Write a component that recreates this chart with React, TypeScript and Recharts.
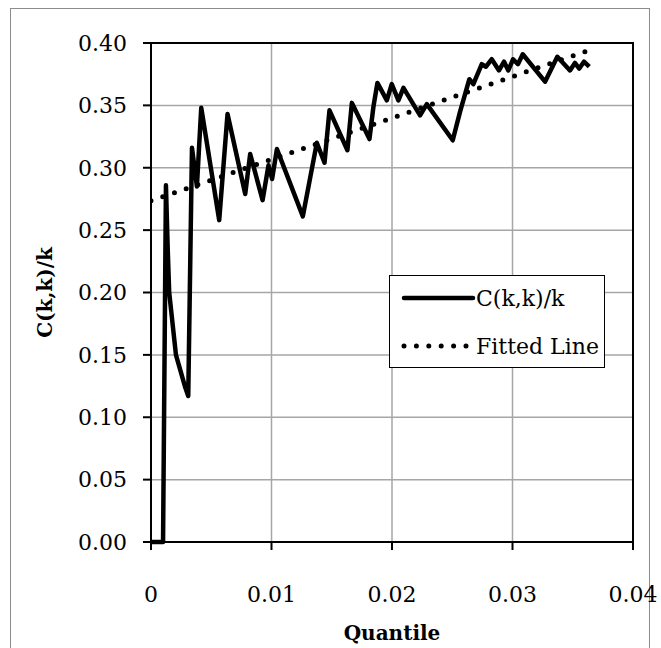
import { LineChart, XAxis, YAxis, CartesianGrid, Line, ReferenceArea } from "recharts";

const quantiles = [
  0, 0.001, 0.00124, 0.00139, 0.00151, 0.00207, 0.00284, 0.00309, 0.0034, 0.00381,
  0.00417, 0.00566, 0.00635, 0.00782, 0.00823, 0.00926, 0.00975, 0.01005, 0.01045, 0.0126,
  0.01376, 0.0144, 0.01481, 0.0163, 0.01667, 0.01813, 0.01846, 0.01879, 0.01957, 0.01998,
  0.02053, 0.02095, 0.02233, 0.02289, 0.02504, 0.02565, 0.02642, 0.02675, 0.02745, 0.0278,
  0.02828, 0.02888, 0.0293, 0.02965, 0.03005, 0.03045, 0.03085, 0.0327, 0.03372, 0.03477,
  0.03518, 0.03554, 0.03593, 0.03637,
];
const ckk = [
  0, 0, 0.286, 0.234, 0.2, 0.15, 0.124, 0.117, 0.316, 0.285,
  0.348, 0.258, 0.343, 0.279, 0.311, 0.274, 0.302, 0.291, 0.315, 0.261,
  0.32, 0.304, 0.346, 0.314, 0.352, 0.323, 0.349, 0.368, 0.354, 0.367,
  0.354, 0.364, 0.342, 0.351, 0.322, 0.345, 0.371, 0.367, 0.383, 0.381,
  0.387, 0.378, 0.385, 0.378, 0.387, 0.383, 0.391, 0.369, 0.389, 0.378,
  0.384, 0.3795, 0.385, 0.381,
];

const fitQuantiles = [0, 0.0363];
const fitValues = [0.2735, 0.394];

const xTicks = [0, 0.01, 0.02, 0.03, 0.04];
const yTicks = [0, 0.05, 0.1, 0.15, 0.2, 0.25, 0.3, 0.35, 0.4];

const mainData = quantiles.map((q, i) => ({ q, v: ckk[i] }));
const fitData = fitQuantiles.map((q, i) => ({ q, v: fitValues[i] }));

const FONT = "'DejaVu Serif', serif";

function LegendBox() {
  return (
    <div
      style={{
        position: "absolute",
        left: 389,
        top: 275,
        width: 214,
        height: 91,
        border: "1.5px solid #000",
        background: "#fff",
      }}
    >
      <svg width={214} height={91} style={{ position: "absolute", left: 0, top: 0 }}>
        <line x1={14} y1={22} x2={83} y2={22} stroke="#000" strokeWidth={4.5} strokeLinecap="round" />
        <line x1={14} y1={70} x2={76} y2={70} stroke="#000" strokeWidth={5} strokeLinecap="round" strokeDasharray="0 12.4" />
        <text x={86} y={30} fontFamily={FONT} fontSize={22}>C(k,k)/k</text>
        <text x={86} y={78} fontFamily={FONT} fontSize={22}>Fitted Line</text>
      </svg>
    </div>
  );
}

export default function App() {
  return (
    <div style={{ position: "absolute", left: 0, top: 0, width: 661, height: 648, background: "#fff", overflow: "hidden" }}>
      <div style={{ position: "absolute", left: 10, top: 8, width: 638, height: 660, border: "1.5px solid #8c8c8c" }} />
      <LineChart width={661} height={648} margin={{ top: 43, right: 28, left: 0, bottom: 0 }}>
        <CartesianGrid stroke="#a6a6a6" strokeWidth={1.5} horizontalValues={yTicks} verticalValues={xTicks} />
        <XAxis
          type="number"
          dataKey="q"
          domain={[0, 0.04]}
          ticks={xTicks}
          allowDataOverflow
          height={106}
          tickSize={8}
          tickMargin={36}
          axisLine={{ stroke: "#000", strokeWidth: 2 }}
          tickLine={{ stroke: "#000", strokeWidth: 2 }}
          tick={{ fill: "#000", fontFamily: FONT, fontSize: 22 }}
          label={{ value: "Quantile", position: "insideBottom", offset: 8, fill: "#000", fontFamily: FONT, fontSize: 20, fontWeight: "bold" }}
        />
        <YAxis
          type="number"
          domain={[0, 0.4]}
          ticks={yTicks}
          width={151}
          tickSize={8}
          tickMargin={16}
          tickFormatter={(v: number) => v.toFixed(2)}
          axisLine={{ stroke: "#000", strokeWidth: 2 }}
          tickLine={{ stroke: "#000", strokeWidth: 2 }}
          tick={{ fill: "#000", fontFamily: FONT, fontSize: 22 }}
          label={{ value: "C(k,k)/k", angle: -90, position: "insideLeft", offset: 45, fill: "#000", fontFamily: FONT, fontSize: 20, fontWeight: "bold", style: { textAnchor: "middle" } }}
        />
        <ReferenceArea x1={0} x2={0.04} y1={0} y2={0.4} fill="none" stroke="#000" strokeWidth={2} />
        <Line
          data={fitData}
          dataKey="v"
          type="linear"
          stroke="#000"
          strokeWidth={5}
          strokeLinecap="round"
          strokeDasharray="0 12.4"
          dot={false}
          isAnimationActive={false}
        />
        <Line
          data={mainData}
          dataKey="v"
          type="linear"
          stroke="#000"
          strokeWidth={4.5}
          strokeLinejoin="round"
          dot={false}
          isAnimationActive={false}
        />
      </LineChart>
      <LegendBox />
    </div>
  );
}
